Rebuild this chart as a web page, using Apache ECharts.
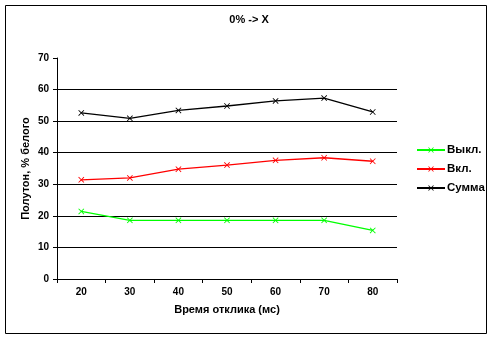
<!DOCTYPE html>
<html><head><meta charset="utf-8">
<script src="https://cdn.jsdelivr.net/npm/echarts@6/dist/echarts.min.js"></script>
<style>html,body{margin:0;padding:0;background:#fff}#c{width:493px;height:340px}</style>
</head><body><div id="c"></div>
<script>
const categories = ['20','30','40','50','60','70','80'];
const seriesNames = ['Выкл.','Вкл.','Сумма'];
const offValues = [21.4, 18.6, 18.6, 18.6, 18.6, 18.6, 15.4];
const onValues = [31.4, 32.0, 34.8, 36.1, 37.6, 38.4, 37.3];
const sumValues = [52.6, 50.9, 53.4, 54.8, 56.4, 57.3, 52.9];
const titleText = '0% -> X';
const xName = 'Время отклика (мс)';
const yName = 'Полутон, % белого';

const font = 'Arial, "Liberation Sans", sans-serif';
const xSym = 'path://M0,1L1,0L5,4L9,0L10,1L6,5L10,9L9,10L5,6L1,10L0,9L4,5Z';
const colors = ['#00ff00', '#ff0000', '#000000'];
const data = [offValues, onValues, sumValues];

const chart = echarts.init(document.getElementById('c'));
chart.setOption({
  animation: false,
  backgroundColor: '#fff',
  title: {
    text: titleText, left: 244, top: 9, textAlign: 'center',
    textStyle: {fontFamily: font, fontWeight: 'bold', fontSize: 11, color: '#000'}
  },
  graphic: [{
    type: 'rect', shape: {x: 5.5, y: 5.5, width: 481, height: 328},
    style: {fill: 'none', stroke: '#000', lineWidth: 1}, silent: true
  }],
  legend: {
    orient: 'vertical', left: 411, top: 139, itemWidth: 28, itemHeight: 7, itemGap: 7,
    data: seriesNames,
    textStyle: {fontFamily: font, fontWeight: 'bold', fontSize: 11.5, color: '#000', padding: [0,0,0,-3]}
  },
  grid: {left: 57, right: 96, top: 58, bottom: 61},
  xAxis: {
    type: 'category', data: categories, boundaryGap: true,
    name: xName, nameLocation: 'middle', nameGap: 25, nameMoveOverlap: false,
    nameTextStyle: {fontFamily: font, fontWeight: 'bold', fontSize: 11, color: '#000'},
    axisLine: {lineStyle: {color: '#000', width: 1}},
    axisTick: {show: true, length: 4, lineStyle: {color: '#000'}},
    axisLabel: {fontFamily: font, fontWeight: 'bold', fontSize: 10, color: '#000', margin: 8},
    splitLine: {show: false}
  },
  yAxis: {
    type: 'value', min: 0, max: 70, interval: 10,
    name: yName, nameLocation: 'middle', nameGap: 26, nameMoveOverlap: false,
    nameTextStyle: {fontFamily: font, fontWeight: 'bold', fontSize: 11, color: '#000'},
    axisLine: {show: true, lineStyle: {color: '#000', width: 1}},
    axisTick: {show: true, length: 4, lineStyle: {color: '#000'}},
    axisLabel: {fontFamily: font, fontWeight: 'bold', fontSize: 10, color: '#000', margin: 8},
    splitLine: {show: true, lineStyle: {color: ['#000','#000','#000','#000','#000','#000','#000','rgba(0,0,0,0)'], width: 1}}
  },
  series: seriesNames.map((n, i) => ({
    name: n, type: 'line', data: data[i],
    symbol: xSym, symbolSize: 6, showSymbol: true,
    lineStyle: {color: colors[i], width: 1.3},
    itemStyle: {color: colors[i]}
  }))
});
</script></body></html>
